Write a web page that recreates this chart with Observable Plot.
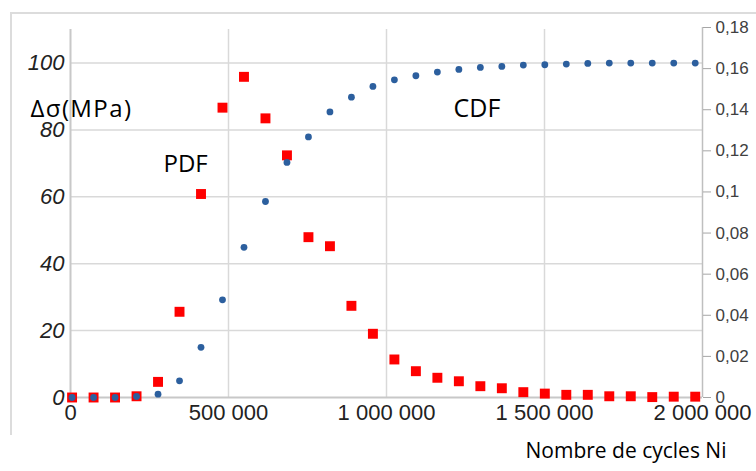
<!DOCTYPE html>
<html>
<head>
<meta charset="utf-8">
<script src="https://cdn.jsdelivr.net/npm/d3@7"></script>
<script src="https://cdn.jsdelivr.net/npm/@observablehq/plot@0.6"></script>
<style>
  html, body { margin: 0; padding: 0; background: #fff; overflow: hidden; }
  #wrap { position: relative; width: 756px; height: 471px; }
  #frame { position: absolute; left: 10px; top: 12px; width: 760px; height: 421px;
           border-left: 2px solid #dcdcdc; border-top: 2px solid #dcdcdc; }
  #chart { position: absolute; left: 0; top: 0; }
  .ylab text { letter-spacing: 1.4px; }
</style>
</head>
<body>
<div id="wrap"><div id="frame"></div><div id="chart"></div></div>
<script>
// Number of cycles (x)
const cycles = [5000, 73000, 141000, 209000, 277000, 345000, 413000, 481000, 549000, 617000,
  685000, 753000, 821000, 889000, 957000, 1025000, 1093000, 1161000, 1229000, 1297000,
  1365000, 1433000, 1501000, 1569000, 1637000, 1705000, 1773000, 1841000, 1909000, 1977000];
// PDF (right axis)
const pdf = [0, 0, 0, 0.0006, 0.0076, 0.0417, 0.099, 0.141, 0.156, 0.1358,
  0.1178, 0.078, 0.0736, 0.0446, 0.031, 0.0185, 0.0128, 0.0096, 0.0079, 0.0055,
  0.0045, 0.0026, 0.0019, 0.0013, 0.0013, 0.0006, 0.0006, 0.0002, 0.0004, 0.0004];
// CDF (left axis)
const cdf = [0, 0, 0, 0.3, 1.0, 5.0, 15.0, 29.2, 44.9, 58.6,
  70.3, 77.9, 85.4, 89.8, 93.0, 95.0, 96.2, 97.3, 98.1, 98.7,
  99.0, 99.4, 99.5, 99.7, 99.9, 100, 100, 100, 100, 100];

const xTicks = [0, 500000, 1000000, 1500000, 2000000];
const leftTicks = [0, 20, 40, 60, 80, 100];
const rightTicks = [0, 0.02, 0.04, 0.06, 0.08, 0.1, 0.12, 0.14, 0.16, 0.18];
const leftMax = 110;
const labels = { yLeft: "Δσ(MPa)", pdf: "PDF", cdf: "CDF", x: "Nombre de cycles Ni" };

// left axis units -> right axis units
const k = 0.001627;

const data = cycles.map((c, i) => ({ x: c, pdf: pdf[i], cdf: cdf[i] }));
const fmtX = d3.formatLocale({ decimal: ",", thousands: " ", grouping: [3] }).format(",d");
const fmtR = d => String(+d.toFixed(2)).replace(".", ",");

const plot = Plot.plot({
  width: 756,
  height: 471,
  marginLeft: 70,
  marginRight: 54,
  marginTop: 27,
  marginBottom: 74,
  style: { fontFamily: "'Liberation Sans', Arial, sans-serif", background: "transparent" },
  x: { domain: [0, 2000000] },
  y: { domain: [0, 0.18] },
  marks: [
    // grid
    Plot.ruleY(leftTicks.filter(v => v > 0), { y: v => v * k, x1: 0, x2: 2000000, stroke: "#d9d9d9", strokeWidth: 1.5 }),
    Plot.ruleX(xTicks.filter(v => v > 0 && v < 2000000), { x: v => v, y1: 0, y2: leftMax * k, stroke: "#d9d9d9", strokeWidth: 1.5 }),
    // axis lines
    Plot.ruleX([0], { y1: 0, y2: leftMax * k, stroke: "#c8c8c8", strokeWidth: 2 }),
    Plot.ruleX([2000000], { y1: 0, y2: 0.18, stroke: "#bfbfbf", strokeWidth: 1.5 }),
    Plot.ruleY([0], { x1: 0, x2: 2000000, stroke: "#c8c8c8", strokeWidth: 2 }),
    // axes
    Plot.axisX({ ticks: xTicks, tickFormat: fmtX, tickSize: 0, tickPadding: 7, fontSize: 22, fill: "#222", label: null }),
    Plot.axisY({ anchor: "left", ticks: leftTicks.map(v => v * k), tickFormat: d => Math.round(d / k), tickSize: 0, tickPadding: 6,
                 fontSize: 22, fontStyle: "italic", fill: "#222", label: null }),
    Plot.axisY({ anchor: "right", ticks: rightTicks, tickFormat: fmtR, tickSize: 8, tickPadding: 5,
                 fontSize: 17, fill: "#404040", stroke: "#a6a6a6", label: null }),
    // data
    Plot.dot(data, { x: "x", y: "pdf", symbol: "square", r: 5.6, fill: "#ff0000", stroke: "none" }),
    Plot.dot(data, { x: "x", y: d => d.cdf * k, symbol: "circle", r: 3.4, fill: "#2c5f9e", stroke: "none" }),
    // annotations
    Plot.text([labels.yLeft], { text: d => d, frameAnchor: "top-left", dx: -40, dy: 72, textAnchor: "start",
                 fontSize: 24, fontFamily: "'Open Sans', sans-serif", fill: "#000", className: "ylab" }),
    Plot.text([labels.pdf], { text: d => d, frameAnchor: "top-left", dx: 93, dy: 127, textAnchor: "start",
                 fontSize: 24, fontFamily: "'Open Sans', sans-serif", fill: "#000" }),
    Plot.text([labels.cdf], { text: d => d, frameAnchor: "top-left", dx: 383, dy: 72, textAnchor: "start",
                 fontSize: 25, fontFamily: "'Open Sans', sans-serif", fill: "#000" }),
    Plot.text([labels.x], { text: d => d, frameAnchor: "bottom-left", dx: 455, dy: 60, textAnchor: "start",
                 fontSize: 21, fontFamily: "'Open Sans', sans-serif", fill: "#000" })
  ]
});
document.getElementById("chart").appendChild(plot);
</script>
</body>
</html>
